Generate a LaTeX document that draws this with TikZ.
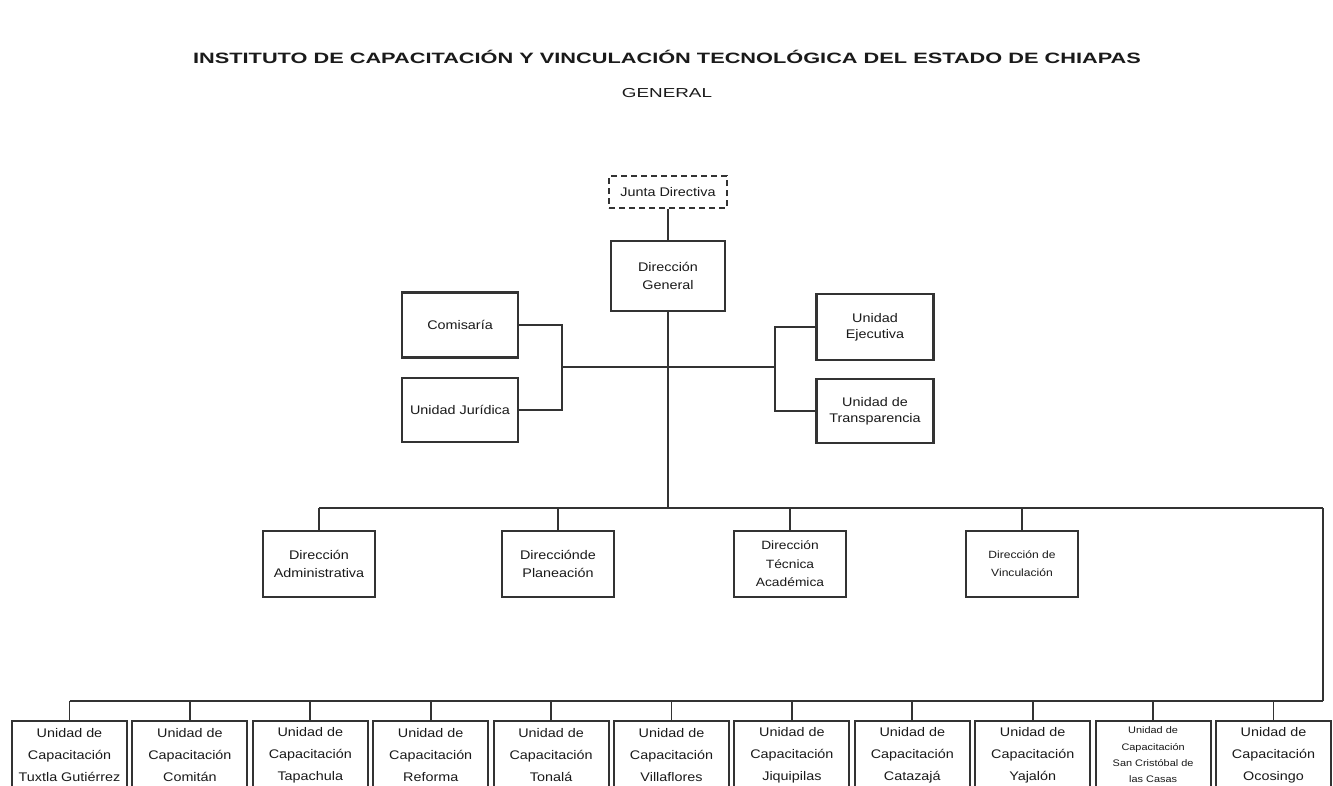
\documentclass[tikz,border=0pt]{standalone}
\usepackage{fontspec}
\setmainfont[FakeStretch=1.15]{Liberation Sans}
\newfontfamily\fuentetitulo[FakeStretch=1.45]{Liberation Sans}
\usetikzlibrary{positioning}

\definecolor{gristrazo}{HTML}{333333}
\definecolor{gristexto}{HTML}{1A1A1A}

\tikzset{
	titulo/.style={text=gristexto,font=\fuentetitulo\bfseries\fontsize{15}{18}\selectfont},
	subtitulo/.style={text=gristexto,font=\fuentetitulo\fontsize{13}{16}\selectfont},
	caja/.style={draw=gristrazo,line width=2.2pt,text=gristexto,align=center,inner sep=0pt,font=\fontsize{12.5}{18}\selectfont},
	cajadir/.style={caja,minimum width=112,minimum height=66},
	cajauni/.style={caja,line width=2pt,minimum width=115,minimum height=68,font=\fontsize{12.5}{22}\selectfont},
	conector/.style={draw=gristrazo,line width=1.8pt},
	tronco/.style={conector,line width=2.6pt}
}

\begin{document}
\begin{tikzpicture}[x=1pt,y=-1pt]
	\useasboundingbox (0,0) rectangle (1333,785);
	\fill[white] (0,0) rectangle (1333,785);
	% encabezado
	\node[titulo] (titulo) at (667,57) {INSTITUTO DE CAPACITACIÓN Y VINCULACIÓN TECNOLÓGICA DEL ESTADO DE CHIAPAS};
	\node[subtitulo] (general) at (667,93) {GENERAL};
	% organos de gobierno
	\node[caja,dash pattern=on 6pt off 4pt,line width=1.3pt,minimum width=118,minimum height=32] (junta) at (668,192) {Junta Directiva};
	\node[caja,line width=2.8pt,minimum width=114,minimum height=70] (dg) at (668,276) {Dirección\\General};
	\node[caja,minimum width=116,minimum height=65] (comisaria) at (460,325) {Comisaría};
	\node[caja,minimum width=116,minimum height=64] (juridica) at (460,410) {Unidad Jurídica};
	\node[caja,minimum width=117,minimum height=66,font=\fontsize{12.5}{16}\selectfont] (ejecutiva) at (875,327) {Unidad\\Ejecutiva};
	\node[caja,minimum width=117,minimum height=64,font=\fontsize{12.5}{16}\selectfont] (transparencia) at (875,411) {Unidad de\\Transparencia};
	\coordinate (izq) at (562,367);
	\coordinate (der) at (775,367);
	\coordinate (bus1izq) at (319,508);
	\coordinate (bus1der) at (1323,508);
	\coordinate (bus2der) at (1323,701);
	\draw[conector] (junta) -- (dg);
	\draw[tronco] (dg.south) -- (dg.south |- bus1izq);
	\draw[conector] (comisaria.east) -| (izq) |- (juridica.east);
	\draw[conector] (ejecutiva.west) -| (der) |- (transparencia.west);
	\draw[conector] (izq) -- (der);
	% direcciones
	\node[cajadir] (administrativa) at (319,564) {Dirección\\Administrativa};
	\node[cajadir] (planeacion) at (558,564) {Direcciónde\\Planeación};
	\node[cajadir,font=\fontsize{12}{18.5}\selectfont] (tecnica) at (790,564) {Dirección\\Técnica\\Académica};
	\node[cajadir,font=\fontsize{10.5}{18}\selectfont] (vinculacion) at (1022,564) {Dirección de\\Vinculación};
	\draw[tronco] (bus1izq) -- (bus1der);
	\foreach \d in {administrativa,planeacion,tecnica,vinculacion}
		\draw[conector] (\d.north) -- (\d.north |- bus1izq);
	\draw[conector] (bus1der) -- (bus2der);
	% unidades de capacitacion
	\foreach \i/\lugar in {1/Tuxtla Gutiérrez,2/Comitán,3/Tapachula,4/Reforma,5/Tonalá,6/Villaflores,7/Jiquipilas,8/Catazajá,9/Yajalón,11/Ocosingo}
		\node[cajauni] (u\i) at ({69.5+120.4*(\i-1)},755) {Unidad de\\Capacitación\\\lugar};
	\node[cajauni,font=\fontsize{9.5}{16.3}\selectfont] (u10) at ({69.5+120.4*9},755) {Unidad de\\Capacitación\\San Cristóbal de\\las Casas};
	\draw[conector] (u1.north |- bus2der) -- (bus2der);
	\foreach \i in {1,...,11}
		\draw[conector] (u\i.north) -- (u\i.north |- bus2der);
\end{tikzpicture}
\end{document}
